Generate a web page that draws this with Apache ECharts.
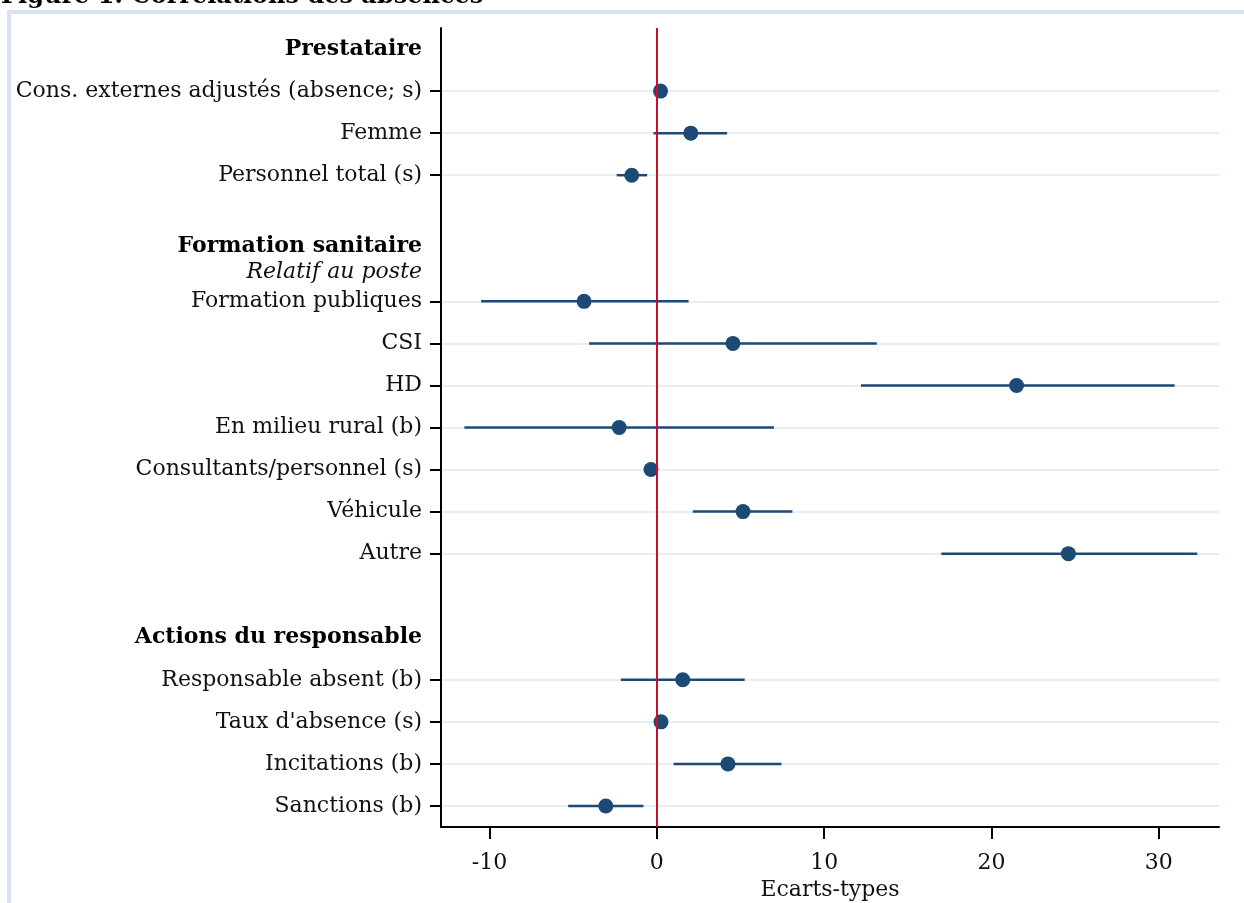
<!DOCTYPE html>
<html><head><meta charset="utf-8">
<script src="https://cdn.jsdelivr.net/npm/echarts@6/dist/echarts.min.js"></script>
<style>html,body{margin:0;padding:0;background:#fff}#c{width:1244px;height:903px}</style>
</head><body><div id="c"></div>
<script>
// ---- data ----
const categories = ['Prestataire', 'Cons. externes adjustés (absence; s)', 'Femme', 'Personnel total (s)', '',
  'Formation sanitaire', 'Formation publiques', 'CSI', 'HD', 'En milieu rural (b)', 'Consultants/personnel (s)',
  'Véhicule', 'Autre', ' ', 'Actions du responsable', 'Responsable absent (b)', "Taux d'absence (s)",
  'Incitations (b)', 'Sanctions (b)'];
const headerRows = ['Prestataire', 'Formation sanitaire', 'Actions du responsable'];
const subHeaders = { 'Formation sanitaire': 'Relatif au poste' };
const estimate = [null, 0.22, 2.03, -1.5, null, null, -4.35, 4.55, 21.5, -2.25, -0.35, 5.15, 24.6, null, null, 1.55, 0.25, 4.25, -3.05];
const lower    = [null, 0.05, -0.2, -2.4, null, null, -10.5, -4.05, 12.2, -11.5, -0.55, 2.15, 17.0, null, null, -2.15, 0.1, 1.0, -5.3];
const upper    = [null, 0.4, 4.2, -0.58, null, null, 1.9, 13.15, 30.95, 7.0, -0.15, 8.1, 32.3, null, null, 5.25, 0.4, 7.45, -0.8];
const xTicks = [-10, 0, 10, 20, 30];
const xMin = -12.9, xMax = 33.6;
const xTitle = 'Ecarts-types';
const figTitle = 'Figure 1: Corrélations des absences';

// ---- style ----
const FONT = 'DejaVu Serif';
const FS = 22;
const BLUE = '#1c4a74';
const RED = '#c8102e';

const scatterData = [], barData = [];
estimate.forEach((v, i) => {
  if (v != null) {
    scatterData.push([v, i]);
    barData.push([lower[i], upper[i], i]);
  }
});
const isData = (i) => estimate[i] != null;

const chart = echarts.init(document.getElementById('c'), null, { renderer: 'canvas' });
chart.setOption({
  animation: false,
  backgroundColor: '#fff',
  grid: { left: 441, right: 25, top: 28, bottom: 76, containLabel: false, outerBoundsMode: 'none' },
  graphic: [
    { type: 'rect', shape: { x: 9, y: 12, width: 1400, height: 1100 }, style: { fill: 'none', stroke: '#d9e2f3', lineWidth: 4 }, z: 0, silent: true },
    { type: 'text', x: 1, y: -3, style: { text: figTitle, font: 'bold 24px "' + FONT + '"', fill: '#000', verticalAlign: 'middle' }, silent: true }
  ],
  xAxis: {
    type: 'value', min: xMin, max: xMax,
    name: xTitle, nameLocation: 'middle', nameGap: 50,
    nameTextStyle: { fontFamily: FONT, fontSize: FS, color: '#111' },
    axisLine: { show: true, onZero: false, lineStyle: { color: '#000', width: 2 } },
    axisTick: { show: true, length: 12, lineStyle: { color: '#000', width: 2 }, customValues: xTicks },
    axisLabel: { fontFamily: FONT, fontSize: FS, color: '#111', margin: 25, customValues: xTicks },
    splitLine: { show: false }
  },
  yAxis: {
    type: 'category', inverse: true, data: categories, boundaryGap: true,
    axisLine: { show: true, onZero: false, lineStyle: { color: '#000', width: 2 } },
    axisTick: { show: true, alignWithLabel: true, length: 11, interval: (i) => isData(i), lineStyle: { color: '#000', width: 2 } },
    splitLine: { show: true, alignWithLabel: true, interval: (i) => isData(i), lineStyle: { color: '#e8eff2', width: 2 } },
    axisLabel: {
      interval: 0, margin: 19, fontFamily: FONT, fontSize: FS, color: '#111',
      formatter: (value, idx) => {
        const name = categories[idx];
        if (headerRows.includes(name)) {
          let s = '{h|' + name + '}';
          if (subHeaders[name]) s += '\n{i|' + subHeaders[name] + '}';
          return s;
        }
        return name;
      },
      rich: {
        h: { fontFamily: FONT, fontSize: FS, fontWeight: 'bold', color: '#000', lineHeight: 26, align: 'right' },
        i: { fontFamily: FONT, fontSize: FS, fontStyle: 'italic', color: '#111', lineHeight: 26, align: 'right' }
      }
    }
  },
  series: [
    {
      type: 'custom', z: 2, silent: true,
      encode: { x: [0, 1], y: 2 },
      data: barData,
      renderItem: (params, api) => {
        const y = api.value(2);
        const p1 = api.coord([api.value(0), y]);
        const p2 = api.coord([api.value(1), y]);
        return { type: 'line', shape: { x1: p1[0], y1: p1[1], x2: p2[0], y2: p2[1] }, style: { stroke: BLUE, lineWidth: 2.5 } };
      }
    },
    {
      type: 'scatter', z: 3, silent: true, data: [],
      markLine: {
        silent: true, symbol: 'none', label: { show: false },
        lineStyle: { color: RED, width: 2, type: 'solid' },
        data: [{ xAxis: 0 }]
      }
    },
    {
      type: 'scatter', z: 4, silent: true, data: scatterData,
      symbol: 'circle', symbolSize: 15,
      itemStyle: { color: BLUE, opacity: 1 }
    }
  ]
});
</script></body></html>
